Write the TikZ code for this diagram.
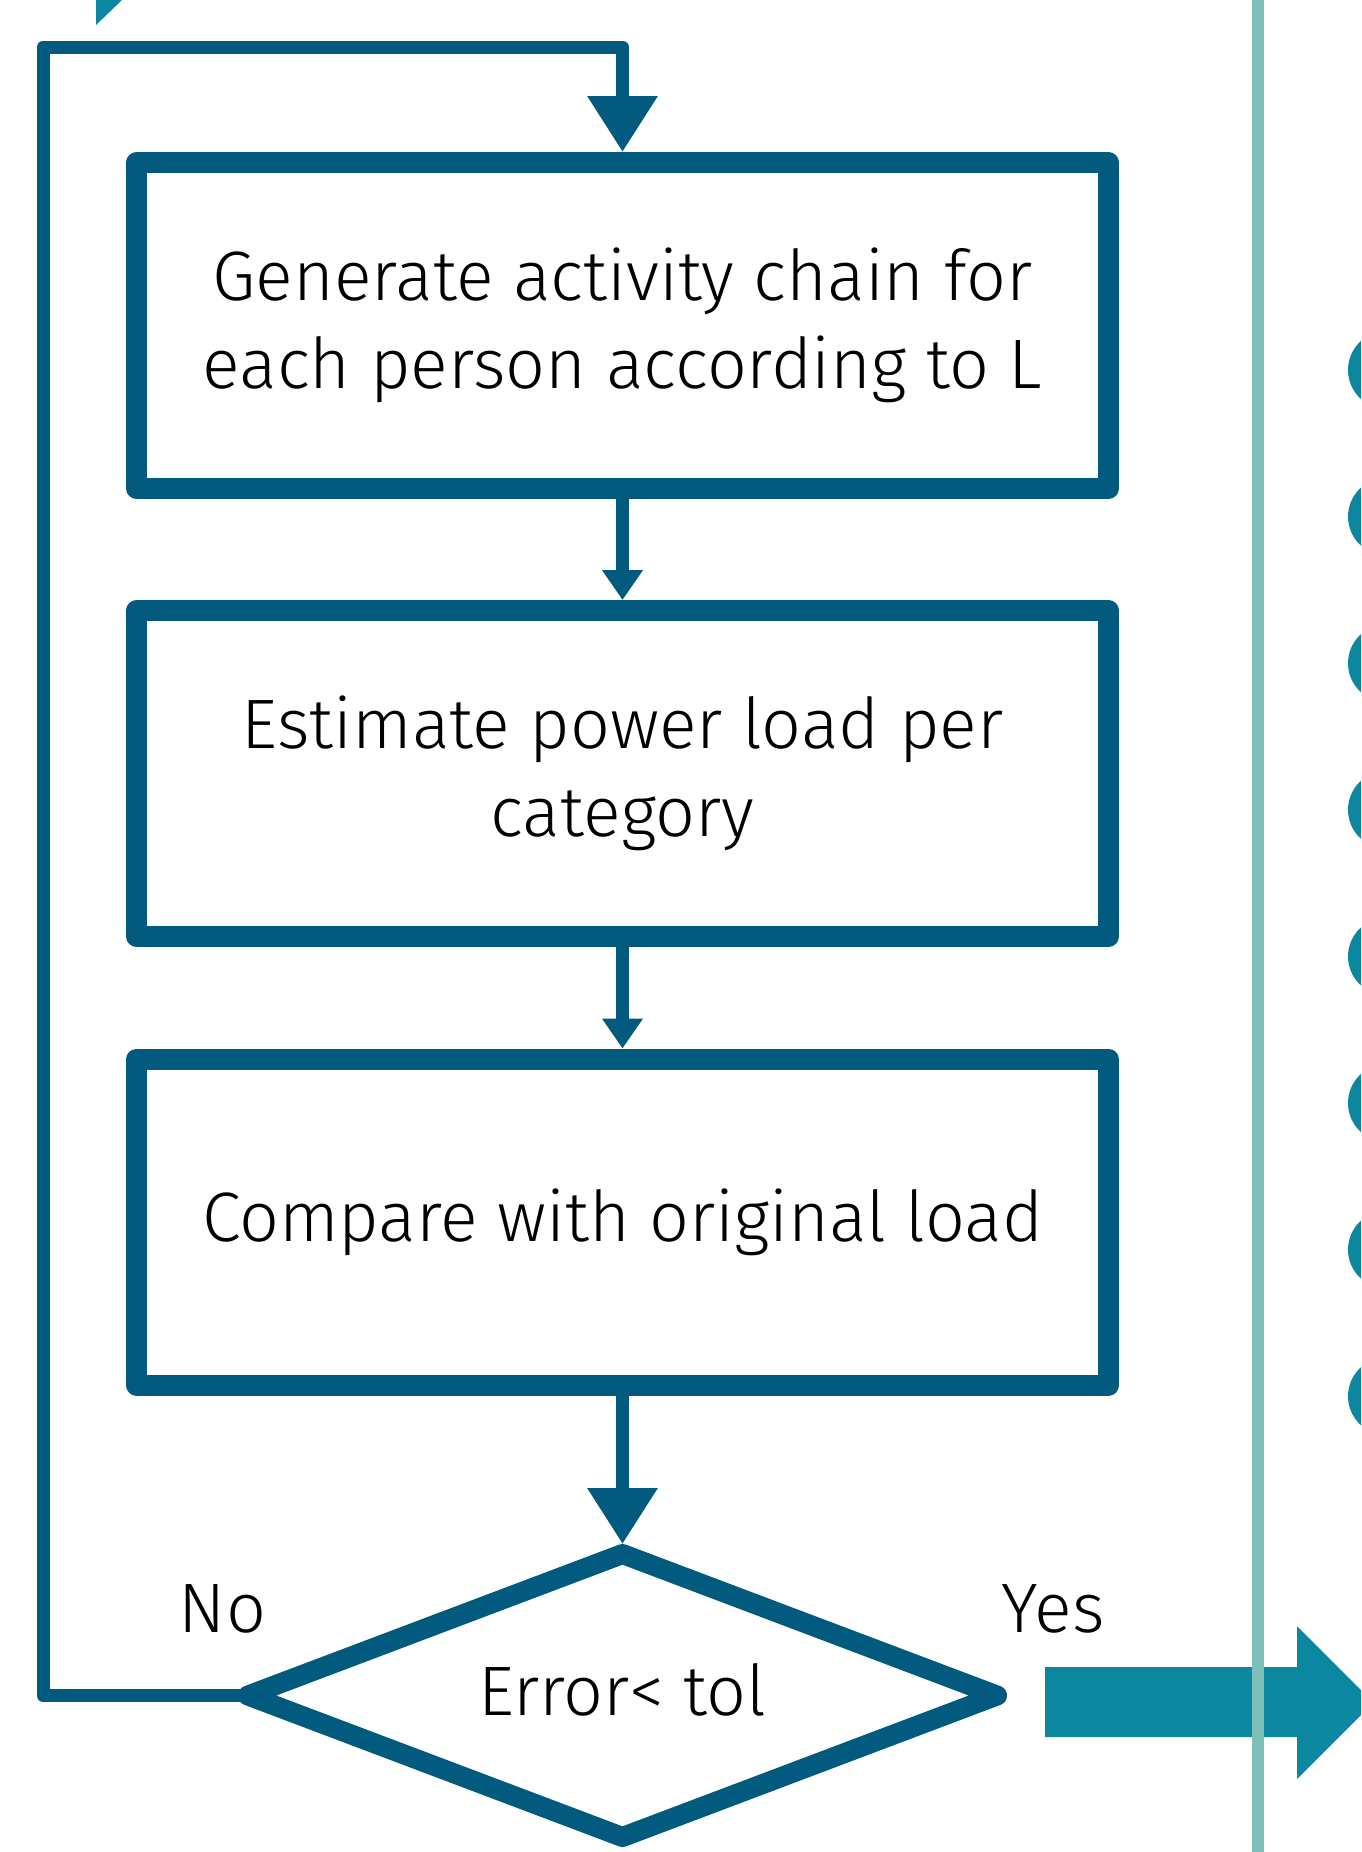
\documentclass[tikz,border=0pt]{standalone}
\usepackage{fontspec}
\setmainfont{Fira Sans Light}
\usetikzlibrary{arrows.meta}
\definecolor{deep}{RGB}{2,90,127}
\definecolor{lagoon}{RGB}{13,135,160}
\definecolor{seafoam}{RGB}{128,191,183}

\begin{document}
\begin{tikzpicture}[
  x=0.5pt, y=-0.5pt,
  stage/.style={rectangle, draw=deep, line width=10.5pt, line join=round,
                minimum width=485.75pt, minimum height=163pt, inner sep=0pt,
                align=center, font=\fontsize{35}{44}\selectfont},
  rim/.style={draw=deep, line width=10pt, line join=round},
  flow/.style={draw=deep, line width=6.5pt, line join=round,
               -{Triangle[length=28pt, width=33.5pt]}},
  hop/.style={draw=deep, line width=6.5pt,
              -{Triangle[length=15pt, width=19.5pt]}},
  ans/.style={font=\fontsize{35}{44}\selectfont, inner sep=0pt}]
  \useasboundingbox (0,0) rectangle (1361,1852);
  \clip (0,0) rectangle (1361,1852);
  \fill[lagoon] (96,0) -- (122,0) -- (96,25) -- cycle;
  \node[stage] (gen) at (622.5,325.5) {Generate activity chain for\\each person according to L};
  \node[stage] (est) at (622.5,773.5) {Estimate power load per\\category};
  \node[stage] (cmp) at (622.5,1222) {Compare with original load};
  % decision
  \coordinate (dtop) at (622.5,1554);
  \coordinate (dright) at (997,1695.5);
  \coordinate (dbot) at (622.5,1837);
  \coordinate (dleft) at (248,1695.5);
  \draw[rim] (dtop) -- (dright) -- (dbot) -- (dleft) -- cycle;
  \node[ans] (dec) at (622.5,1690) {Error< tol};
  \coordinate (bend) at (43,47);
  \draw[hop] (gen.south) -- (est.north);
  \draw[hop] (est.south) -- (cmp.north);
  \draw[flow] (cmp.south) -- ([yshift=5pt]dtop);
  \draw[flow] (dleft) -| (bend) -| (gen.north);
  \node[ans, anchor=base] (no) at (222.5,1632) {No};
  \node[ans, anchor=base] (yes) at (1053,1632) {Yes};
  \fill[lagoon] (1045,1667) -- (1297,1667) -- (1297,1626) -- (1373.5,1702.5)
    -- (1297,1779) -- (1297,1737) -- (1045,1737) -- cycle;
  \draw[seafoam, line width=6pt] (1258,0) -- (1258,1852);
  \fill[lagoon] (1387,370) circle (39);
  \fill[lagoon] (1387,516.6) circle (39);
  \fill[lagoon] (1387,663.2) circle (39);
  \fill[lagoon] (1387,809.8) circle (39);
  \fill[lagoon] (1387,956.4) circle (39);
  \fill[lagoon] (1387,1103) circle (39);
  \fill[lagoon] (1387,1249.6) circle (39);
  \fill[lagoon] (1387,1396.2) circle (39);
\end{tikzpicture}
\end{document}
